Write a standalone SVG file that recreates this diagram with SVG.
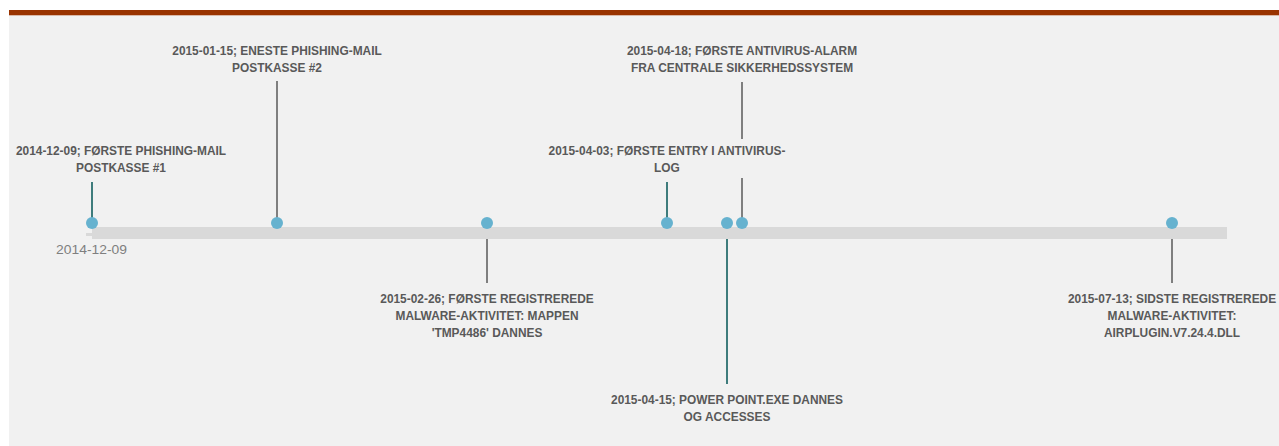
<svg xmlns="http://www.w3.org/2000/svg" width="1279" height="446" viewBox="0 0 1279 446">
<style>
.lbl{font-family:"Liberation Sans",Arial,sans-serif;font-weight:bold;font-size:11.9px;fill:#595959;text-anchor:middle}
.axis{font-family:"Liberation Sans",Arial,sans-serif;font-size:13px;fill:#7f7f7f}
.dot{fill:#66b2cf}
.g{stroke:#7f7f7f;stroke-width:2}
.t{stroke:#3e7c7c;stroke-width:2}
</style>
<rect x="0" y="0" width="1279" height="446" fill="#ffffff"/>
<rect x="9" y="15" width="1270" height="431" fill="#f1f1f1"/>
<rect x="9" y="10" width="1270" height="5" fill="#993300"/>
<rect x="9" y="15" width="1270" height="1" fill="#d9b8a8"/>
<g id="axis">
<rect x="86" y="233" width="8" height="3" fill="#d9d9d9"/>
<rect x="92" y="227" width="1135" height="12" fill="#d9d9d9"/>
<text class="axis" x="56" y="254" textLength="71" lengthAdjust="spacingAndGlyphs">2014-12-09</text>
</g>
<g id="connectors">
<line class="t" x1="92" y1="182" x2="92" y2="221"/>
<line class="g" x1="277" y1="81" x2="277" y2="222"/>
<line class="g" x1="487" y1="239" x2="487" y2="283"/>
<line class="t" x1="667" y1="182" x2="667" y2="222"/>
<line class="t" x1="727" y1="239" x2="727" y2="384"/>
<line class="g" x1="742" y1="82" x2="742" y2="139"/>
<line class="g" x1="742" y1="178" x2="742" y2="222"/>
<line class="g" x1="1172" y1="239" x2="1172" y2="283"/>
</g>
<g id="e1"><circle class="dot" cx="92" cy="223" r="6"/><text class="lbl" x="121" y="155">2014-12-09; FØRSTE PHISHING-MAIL</text><text class="lbl" x="121" y="172">POSTKASSE #1</text></g>
<g id="e2"><circle class="dot" cx="277" cy="223" r="6"/><text class="lbl" x="277" y="55">2015-01-15; ENESTE PHISHING-MAIL</text><text class="lbl" x="277" y="72">POSTKASSE #2</text></g>
<g id="e3"><circle class="dot" cx="487" cy="223" r="6"/><text class="lbl" x="487" y="303">2015-02-26; FØRSTE REGISTREREDE</text><text class="lbl" x="487" y="320">MALWARE-AKTIVITET: MAPPEN</text><text class="lbl" x="487" y="337">'TMP4486' DANNES</text></g>
<g id="e4"><circle class="dot" cx="667" cy="223" r="6"/><text class="lbl" x="667" y="155">2015-04-03; FØRSTE ENTRY I ANTIVIRUS-</text><text class="lbl" x="667" y="172">LOG</text></g>
<g id="e5"><circle class="dot" cx="727" cy="223" r="6"/><text class="lbl" x="727" y="404">2015-04-15; POWER POINT.EXE DANNES</text><text class="lbl" x="727" y="421">OG ACCESSES</text></g>
<g id="e6"><circle class="dot" cx="742" cy="223" r="6"/><text class="lbl" x="742" y="55">2015-04-18; FØRSTE ANTIVIRUS-ALARM</text><text class="lbl" x="742" y="72">FRA CENTRALE SIKKERHEDSSYSTEM</text></g>
<g id="e7"><circle class="dot" cx="1172" cy="223" r="6"/><text class="lbl" x="1172" y="303">2015-07-13; SIDSTE REGISTREREDE</text><text class="lbl" x="1172" y="320">MALWARE-AKTIVITET:</text><text class="lbl" x="1172" y="337">AIRPLUGIN.V7.24.4.DLL</text></g>
</svg>
